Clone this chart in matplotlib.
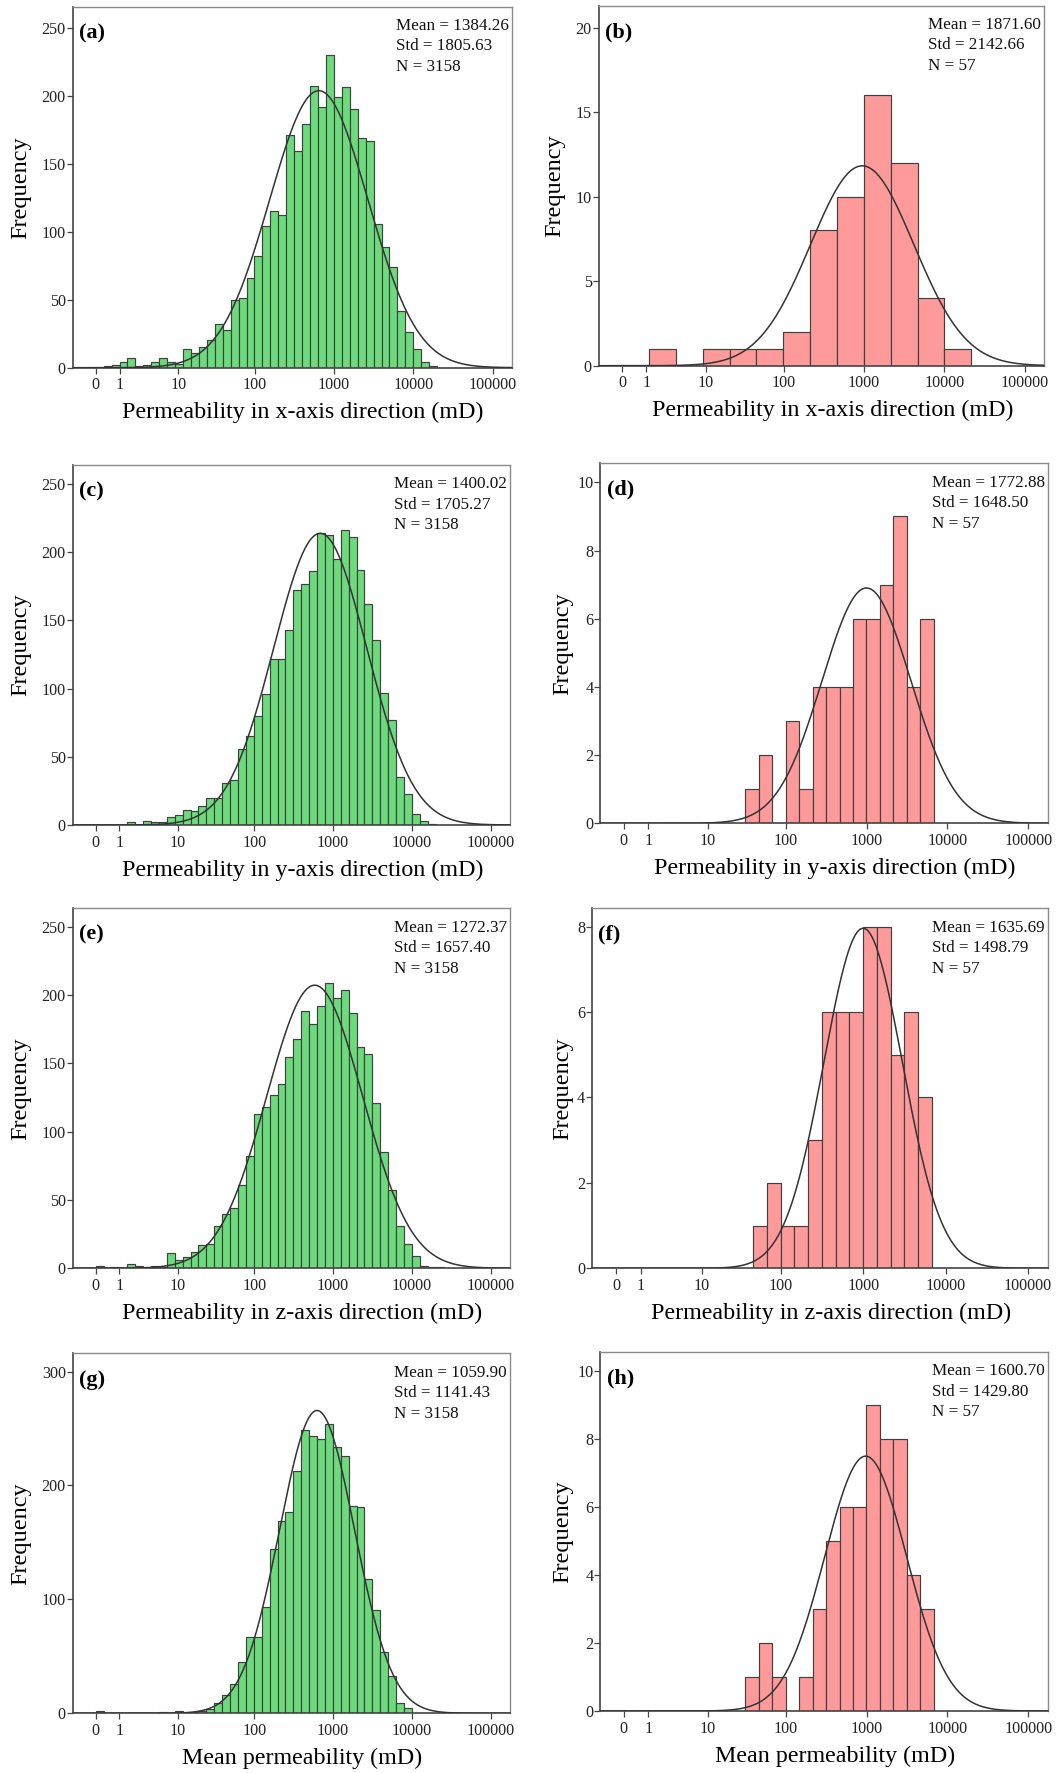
import numpy as np
import matplotlib
matplotlib.use('Agg')
import matplotlib.pyplot as plt
import matplotlib.transforms as mtransforms

plt.rcParams['font.family'] = ['Liberation Serif', 'DejaVu Serif']

W, H = 1062, 1773

# x axis is log10(k + 1)
tick_vals = [0, 1, 10, 100, 1000, 10000, 100000]
tick_labels = ['0', '1', '10', '100', '1000', '10000', '100000']

green = '#6cdb7c'
red = '#ff9a9a'

# ---- histogram counts (bins in log10(k+1) units) ----
counts_a = [1, 2, 4, 7, 1, 2, 4, 7, 4, 3, 14, 11, 15, 20, 32, 28, 50, 51, 66,
            82, 104, 115, 112, 171, 159, 179, 207, 192, 230, 199, 206, 190, 169,
            167, 106, 89, 74, 42, 26, 14, 4, 1]
start_a, bw_a = 0.1, 0.1

counts_b = [1, 0, 1, 1, 1, 2, 8, 10, 16, 12, 4, 1]
start_b, bw_b = 1 / 3, 1 / 3

counts_c = [2, 0, 3, 2, 2, 6, 7, 11, 10, 14, 20, 20, 31, 33, 56, 65, 80, 96,
            122, 122, 143, 172, 177, 186, 214, 213, 195, 216, 211, 187, 162,
            136, 97, 77, 35, 23, 8, 3, 1]
start_c, bw_c = 0.4, 0.1

counts_d = [1, 2, 0, 3, 1, 4, 4, 4, 6, 6, 7, 9, 4, 6]
start_d, bw_d = 1.5, 1 / 6

counts_e = [2, 0, 1, 0, 3, 2, 0, 2, 1, 11, 6, 8, 12, 17, 18, 31, 40, 44, 61,
            82, 113, 118, 127, 135, 155, 168, 188, 179, 192, 209, 198, 204, 187,
            162, 157, 121, 85, 57, 31, 18, 9, 2, 1, 1]
start_e, bw_e = 0.0, 0.1

counts_f = [1, 2, 1, 1, 3, 6, 6, 6, 8, 8, 5, 6, 4]
start_f, bw_f = 10 / 6, 1 / 6

counts_g = [2, 0, 0, 0, 0, 0, 0, 0, 1, 0, 2, 0, 1, 2, 4, 9, 16, 26, 45, 67,
            67, 93, 144, 169, 177, 213, 249, 243, 241, 254, 234, 226, 182, 181,
            118, 91, 54, 33, 9, 5]
start_g, bw_g = 0.0, 0.1

counts_h = [1, 2, 1, 0, 1, 3, 5, 6, 6, 9, 8, 8, 4, 3]
start_h, bw_h = 1.5, 1 / 6

# fitted normal curves (mean, sd of log10(k+1))
mu = [2.81, 2.98, 2.84, 3.0, 2.77, 3.0, 2.80, 2.99]
sd = [0.619, 0.641, 0.589, 0.549, 0.608, 0.476, 0.474, 0.506]

means = ['1384.26', '1871.60', '1400.02', '1772.88', '1272.37', '1635.69', '1059.90', '1600.70']
stds = ['1805.63', '2142.66', '1705.27', '1648.50', '1657.40', '1498.79', '1141.43', '1429.80']
ns = ['3158', '57', '3158', '57', '3158', '57', '3158', '57']

xlabels = ['Permeability in x-axis direction (mD)'] * 2 + \
          ['Permeability in y-axis direction (mD)'] * 2 + \
          ['Permeability in z-axis direction (mD)'] * 2 + \
          ['Mean permeability (mD)'] * 2

panels = [
    ('a', counts_a, start_a, bw_a, green, 265.4, [0, 50, 100, 150, 200, 250], (72.7, 511.7, 6.7, 367.7), 21),
    ('b', counts_b, start_b, bw_b, red, 21.3, [0, 5, 10, 15, 20], (598.7, 1044.3, 5.7, 365.7), 555),
    ('c', counts_c, start_c, bw_c, green, 264, [0, 50, 100, 150, 200, 250], (72.7, 510, 465, 825), 21),
    ('d', counts_d, start_d, bw_d, red, 10.56, [0, 2, 4, 6, 8, 10], (600.3, 1047.7, 463.3, 823.3), 563),
    ('e', counts_e, start_e, bw_e, green, 263.5, [0, 50, 100, 150, 200, 250], (72.7, 510, 908.3, 1268.3), 21),
    ('f', counts_f, start_f, bw_f, red, 8.43, [0, 2, 4, 6, 8], (592, 1047.7, 908.3, 1268.3), 563),
    ('g', counts_g, start_g, bw_g, green, 316, [0, 100, 200, 300], (72.7, 510, 1353.3, 1713.3), 21),
    ('h', counts_h, start_h, bw_h, red, 10.56, [0, 2, 4, 6, 8, 10], (600.3, 1047.7, 1351.7, 1711), 563),
]

fig = plt.figure(figsize=(W / 100, H / 100), dpi=100)
PX = 0.72  # points per pixel at 100 dpi

for i, (letter, counts, start, bw, color, ytop, yticks, box, ylab_x) in enumerate(panels):
    l, r, t, b = box
    ax = fig.add_axes([l / W, 1 - b / H, (r - l) / W, (b - t) / H])
    counts = np.array(counts)
    lefts = start + bw * np.arange(len(counts))
    ax.bar(lefts, counts, width=bw, align='edge', color=color,
           edgecolor='#404040', linewidth=0.85, zorder=2)

    n = counts.sum()
    xs = np.linspace(-0.3, 5.3, 500)
    ys = n * bw / (sd[i] * np.sqrt(2 * np.pi)) * np.exp(-0.5 * ((xs - mu[i]) / sd[i]) ** 2)
    ax.plot(xs, ys, color='#333333', lw=1.1, zorder=3)

    ax.set_xlim(-0.29, 5.24)
    ax.set_ylim(0, ytop)
    ax.set_xticks(np.log10(np.array(tick_vals) + 1))
    ax.set_xticklabels(tick_labels)
    ax.set_yticks(yticks)
    ax.tick_params(direction='out', length=4, width=0.9, color='#444444',
                   labelsize=11.6, labelcolor='#222222')
    ax.tick_params(axis='y', pad=1)
    ax.tick_params(axis='x', pad=3)
    for s in ['top', 'right']:
        ax.spines[s].set_color('#8a8a8a')
        ax.spines[s].set_linewidth(1.0)
    for s in ['left', 'bottom']:
        ax.spines[s].set_color('#444444')
        ax.spines[s].set_linewidth(1.2)

    hpx = b - t
    ax.set_xlabel(xlabels[i], fontsize=17.3, va='center')
    ax.xaxis.set_label_coords(0.525, -45 / hpx)
    ax.set_ylabel('Frequency', fontsize=17.5, va='center')
    trans = mtransforms.blended_transform_factory(fig.transFigure, ax.transAxes)
    ax.yaxis.set_label_coords(ylab_x / W, 0.5, transform=trans)

    ax.annotate('(%s)' % letter, xy=(0, 1), xycoords='axes fraction',
                xytext=(6.3 * PX, -31.6 * PX), textcoords='offset points',
                ha='left', va='baseline', fontsize=16, fontweight='bold')
    lines = ['Mean = ' + means[i], 'Std = ' + stds[i], 'N = ' + ns[i]]
    for j, txt in enumerate(lines):
        ax.annotate(txt, xy=(1, 1), xycoords='axes fraction',
                    xytext=(-116 * PX, -(23.3 + 20.5 * j) * PX),
                    textcoords='offset points', ha='left', va='baseline',
                    fontsize=12.3, color='#111111')

fig.savefig('out.png', dpi=100)
